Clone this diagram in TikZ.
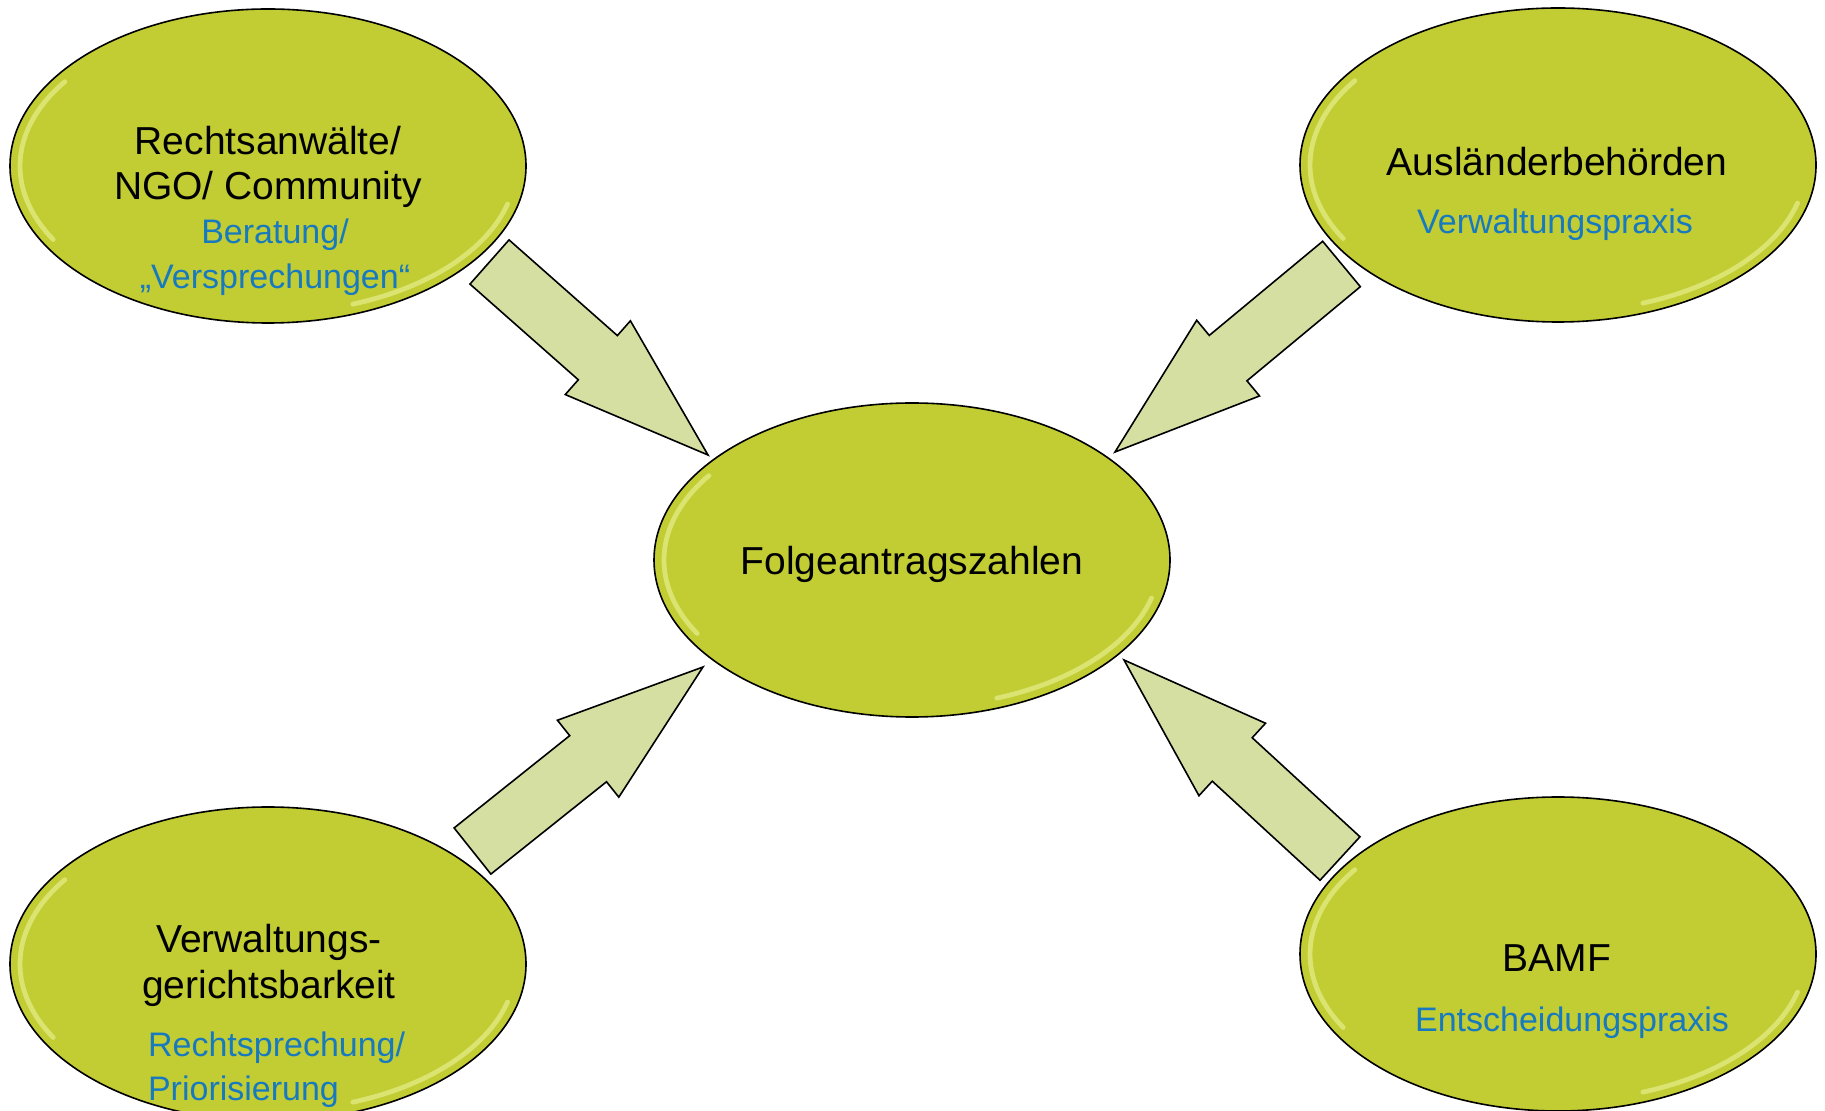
\documentclass[tikz,border=0pt]{standalone}
\usepackage{fontspec}
\setmainfont{Liberation Sans}
\usetikzlibrary{shapes.geometric,calc}
\definecolor{ellgreen}{RGB}{194,204,51}
\definecolor{glossgreen}{RGB}{230,238,140}
\definecolor{arrowgreen}{RGB}{214,223,162}
\definecolor{subblue}{RGB}{24,122,190}
\tikzset{
  bubble/.style={ellipse, draw=black, line width=0.8pt, fill=ellgreen,
    minimum width=258pt, minimum height=157pt, inner sep=0pt},
  gloss/.style={glossgreen, line width=2.4pt, line cap=round, opacity=0.7},
  blk/.style={font=\fontsize{19.5}{22.5}\selectfont, text=black, anchor=base},
  sub/.style={font=\fontsize{17}{20}\selectfont, text=subblue, anchor=base},
  barrowstyle/.style={draw=black, line width=0.8pt, fill=arrowgreen, line join=miter},
}
\newcommand\blockarrow[3]{%
  \coordinate (#3j) at ($(#2)!73.5pt!(#1)$);
  \draw[barrowstyle] ($(#1)!14.75pt!90:(#2)$) -- ($(#3j)!14.75pt!90:(#2)$)
    -- ($(#3j)!24.6pt!90:(#2)$) -- (#2) -- ($(#3j)!24.6pt!-90:(#2)$)
    -- ($(#3j)!14.75pt!-90:(#2)$) -- ($(#1)!14.75pt!-90:(#2)$) -- cycle;}
\newcommand\glossy[2]{%
  \draw[gloss] ([shift={(#1,#2)}]150:248 and 147) arc[start angle=150, end angle=215, x radius=248, y radius=147];
  \draw[gloss] ([shift={(#1,#2)}]15:248 and 147) arc[start angle=15, end angle=70, x radius=248, y radius=147];}
\begin{document}
\begin{tikzpicture}[x=0.5pt, y=-0.5pt]
\useasboundingbox (0,0) rectangle (1825,1111);
\fill[white] (0,0) rectangle (1825,1111);
% ellipses
\node[bubble] (tl) at (268,166) {};
\glossy{268}{166}
\node[bubble] (tr) at (1558,165) {};
\glossy{1558}{165}
\node[bubble] (ctr) at (912,560) {};
\glossy{912}{560}
\node[bubble] (bl) at (268,964) {};
\glossy{268}{964}
\node[bubble] (br) at (1558,954) {};
\glossy{1558}{954}
% arrows
\coordinate (tlA) at (489.5,262);  \coordinate (tlB) at (708,455);
\coordinate (trA) at (1341.5,264); \coordinate (trB) at (1115,452);
\coordinate (blA) at (472.5,851);  \coordinate (blB) at (703,667);
\coordinate (brA) at (1340,858.5); \coordinate (brB) at (1124,660);
\blockarrow{tlA}{tlB}{tl}
\blockarrow{trA}{trB}{tr}
\blockarrow{blA}{blB}{bl}
\blockarrow{brA}{brB}{br}
% texts
\node[blk] (t1a) at (268,155) {Rechtsanwälte/};
\node[blk] (t1b) at (268,200) {NGO/ Community};
\node[sub] (t1c) at (275,244) {Beratung/};
\node[sub] (t1d) at (275,289) {„Versprechungen“};
\node[blk] (t2a) at (1557,176) {Ausländerbehörden};
\node[sub] (t2b) at (1555,234) {Verwaltungspraxis};
\node[blk] (t3) at (912,575) {Folgeantragszahlen};
\node[blk] (t4a) at (269,952) {Verwaltungs-};
\node[blk] (t4b) at (269,998) {gerichtsbarkeit};
\node[sub, anchor=base west] (t4c) at (141,1056) {Rechtsprechung/};
\node[sub, anchor=base west] (t4d) at (141,1100) {Priorisierung};
\node[blk] (t5a) at (1557,971) {BAMF};
\node[sub] (t5b) at (1572,1031) {Entscheidungspraxis};
\end{tikzpicture}
\end{document}
